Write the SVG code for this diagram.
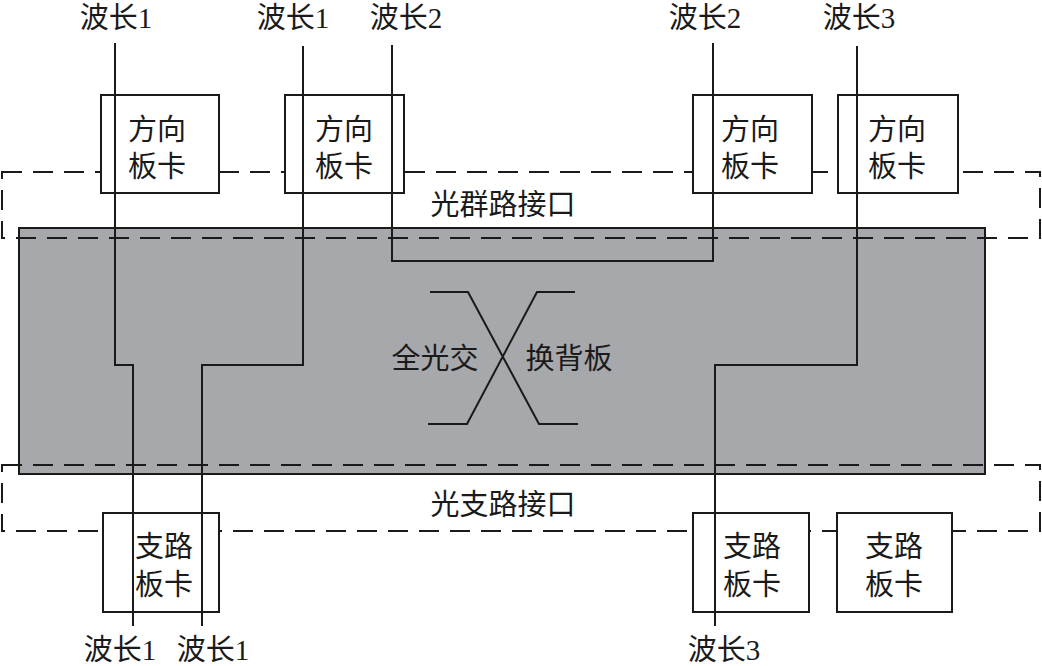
<svg xmlns="http://www.w3.org/2000/svg" width="1042" height="666" viewBox="0 0 1042 666">
<style>
.t{font-family:"Liberation Serif","Noto Sans CJK SC",serif;font-size:29px;fill:#1a1a1a;text-anchor:middle}
.box{fill:#fff;stroke:#1a1a1a;stroke-width:2}
.dash{fill:none;stroke:#1a1a1a;stroke-width:2;stroke-dasharray:20 11}
.ln{fill:none;stroke:#1a1a1a;stroke-width:2}
</style>
<rect width="1042" height="666" fill="#fff"/>
<g id="backplane">
<rect x="19" y="228" width="966" height="246" fill="#a7a8ab" stroke="#1a1a1a" stroke-width="2"/>
<path class="ln" d="M430 292H468L539 424H578M575 292H537L467 424H428"/>
<text class="t" x="435" y="369">全光交</text>
<text class="t" x="569" y="369">换背板</text>
</g>
<g id="trunk-interface">
<rect class="dash" x="2" y="172" width="1038" height="66"/>
<text class="t" x="503" y="215">光群路接口</text>
</g>
<g id="tributary-interface">
<rect class="dash" x="2" y="465" width="1038" height="66"/>
<text class="t" x="503" y="515">光支路接口</text>
</g>
<g id="dir1"><rect class="box" x="101" y="95" width="118" height="98"/><text class="t" x="157" y="140">方向</text><text class="t" x="157" y="177">板卡</text></g>
<g id="dir2"><rect class="box" x="285" y="95" width="119" height="98"/><text class="t" x="344" y="140">方向</text><text class="t" x="344" y="177">板卡</text></g>
<g id="dir3"><rect class="box" x="693" y="95" width="119" height="98"/><text class="t" x="750" y="140">方向</text><text class="t" x="750" y="177">板卡</text></g>
<g id="dir4"><rect class="box" x="838" y="95" width="120" height="98"/><text class="t" x="897" y="140">方向</text><text class="t" x="897" y="177">板卡</text></g>
<g id="trib1"><rect class="box" x="103" y="513" width="116" height="99"/><text class="t" x="164" y="557">支路</text><text class="t" x="164" y="595">板卡</text></g>
<g id="trib2"><rect class="box" x="693" y="513" width="116" height="99"/><text class="t" x="752" y="557">支路</text><text class="t" x="752" y="595">板卡</text></g>
<g id="trib3"><rect class="box" x="837" y="513" width="115" height="99"/><text class="t" x="894" y="557">支路</text><text class="t" x="894" y="595">板卡</text></g>
<g id="connectors">
<path class="ln" d="M115 43V365H133V626"/>
<path class="ln" d="M303 46V365H202V626"/>
<path class="ln" d="M392 45V261H713V43"/>
<path class="ln" d="M857 46V365H715V626"/>
</g>
<g id="labels">
<text class="t" x="116" y="28">波长1</text>
<text class="t" x="293" y="28">波长1</text>
<text class="t" x="406" y="28">波长2</text>
<text class="t" x="705" y="28">波长2</text>
<text class="t" x="859" y="28">波长3</text>
<text class="t" x="120" y="660">波长1</text>
<text class="t" x="213" y="660">波长1</text>
<text class="t" x="724" y="660">波长3</text>
</g>
</svg>
